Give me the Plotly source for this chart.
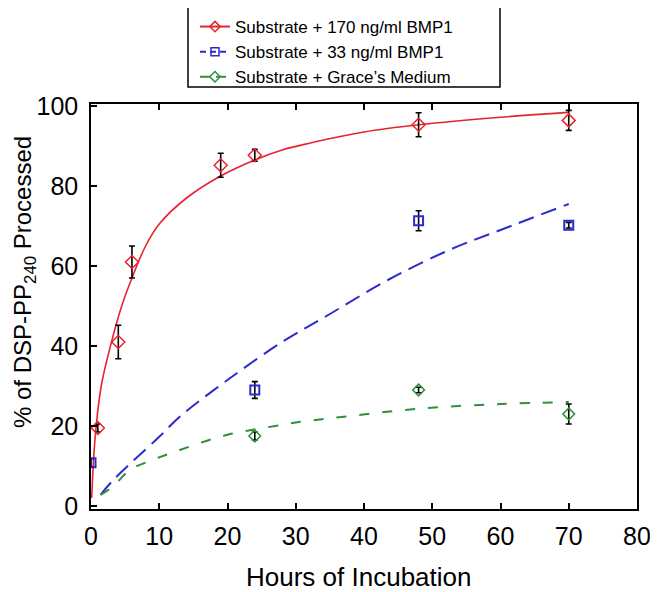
import plotly.graph_objects as go

# Datos
hours_pts = [1, 4, 6, 19, 24, 48, 70]
bmp170_pts = [19.5, 41, 61, 85.2, 87.7, 95.3, 96.4]
bmp170_err = [1, 4.2, 4, 3, 1.5, 3, 2.5]

hours_33 = [0, 24, 48, 70]
bmp33_pts = [10.8, 29, 71.3, 70.2]
bmp33_err = [1, 2.1, 2.5, 0.7]

hours_gr = [24, 48, 70]
grace_pts = [17.5, 29, 23]
grace_err = [1, 0.7, 2.5]

# Curvas ajustadas (valores leídos)
fit170_t = [0.1, 0.6, 1.5, 3, 4.5, 6, 8, 10, 14, 19, 24, 28, 32, 40, 48, 60, 70]
fit170_y = [2, 17, 30, 41, 50, 57, 65, 70.5, 77, 82.5, 86.5, 89, 90.7, 93.5, 95.3, 97.2, 98.4]

fit33_t = [1.4, 3, 6, 10, 13, 20, 28, 35, 43.5, 52.5, 60, 70]
fit33_y = [2.8, 6, 11, 17.3, 22.3, 31.5, 41, 48, 56.5, 64, 69, 75.5]

fitgr_t = [1.4, 3.3, 5.7, 9, 13, 20, 27.7, 31, 38, 48.5, 60, 70]
fitgr_y = [2.8, 5, 9, 11.5, 14, 17.8, 20.2, 21.1, 22.5, 24.4, 25.5, 26]

RED = "#e8232b"
BLUE = "#2b2bd0"
GREEN = "#2f8f3a"
FONT = "Liberation Sans, Arial, sans-serif"

# La página deja 8 px de margen en el body; se compensa aquí
OFF = 8
PL, PR, PT, PB = 91, 637, 104, 509   # caja del gráfico en la imagen de referencia
PW, PH = PR - PL, PB - PT


def px_x(x):
    return (x - PL) / PW


def px_y(y):
    return (PB - y) / PH


fig = go.Figure()

# Curvas
fig.add_trace(go.Scatter(x=fit170_t, y=fit170_y, mode="lines", showlegend=False,
                         line=dict(color=RED, width=1.6, shape="spline")))
fig.add_trace(go.Scatter(x=fit33_t, y=fit33_y, mode="lines", showlegend=False,
                         line=dict(color=BLUE, width=2, shape="spline", dash="16px,8px")))
fig.add_trace(go.Scatter(x=fitgr_t, y=fitgr_y, mode="lines", showlegend=False,
                         line=dict(color=GREEN, width=2, shape="spline", dash="10px,13px")))

# Puntos con barras de error
err_style = dict(type="data", thickness=1.6, width=3, color="black")
fig.add_trace(go.Scatter(x=hours_pts, y=bmp170_pts, mode="markers", showlegend=False,
                         error_y=dict(array=bmp170_err, **err_style),
                         marker=dict(symbol="diamond-open", size=10, color=RED, line=dict(width=1.5))))
fig.add_trace(go.Scatter(x=hours_33, y=bmp33_pts, mode="markers", showlegend=False,
                         error_y=dict(array=bmp33_err, **err_style),
                         marker=dict(symbol="square-open", size=9, color=BLUE, line=dict(width=2))))
fig.add_trace(go.Scatter(x=hours_gr, y=grace_pts, mode="markers", showlegend=False,
                         error_y=dict(array=grace_err, **err_style),
                         marker=dict(symbol="diamond-open", size=9, color=GREEN, line=dict(width=1.5))))

# Entradas de leyenda
legend_items = [
    ("Substrate + 170 ng/ml BMP1", RED, "solid", "diamond-open"),
    ("Substrate + 33 ng/ml BMP1", BLUE, "6px,4px", "square-open"),
    ("Substrate + Grace\u2019s Medium", GREEN, "10px,6px", "diamond-open"),
]
for name, color, dash, symbol in legend_items:
    fig.add_trace(go.Scatter(
        x=[None], y=[None], mode="lines+markers", name=name,
        line=dict(color=color, width=2, dash=dash),
        marker=dict(symbol=symbol, size=8, color=color, line=dict(width=1.5)),
    ))

# Caja de la leyenda
fig.add_shape(type="rect", xref="paper", yref="paper",
              x0=px_x(188), x1=px_x(500), y0=px_y(87), y1=px_y(7),
              line=dict(color="black", width=1.5), fillcolor="rgba(0,0,0,0)")

fig.update_layout(
    width=658 - OFF, height=592 - OFF,
    margin=dict(l=PL - OFF, r=658 - PR, t=PT - OFF, b=592 - PB, autoexpand=False),
    plot_bgcolor="white", paper_bgcolor="white",
    font=dict(family=FONT, size=20, color="black"),
    legend=dict(x=px_x(195), y=px_y(9), xanchor="left", yanchor="top",
                bgcolor="rgba(0,0,0,0)", borderwidth=0,
                font=dict(size=17, family=FONT), tracegroupgap=0,
                itemwidth=30),
    showlegend=True,
)

fig.update_xaxes(
    range=[0, 80], tickvals=[0, 10, 20, 30, 40, 50, 60, 70, 80],
    ticks="inside", ticklen=6, tickwidth=1.5, tickcolor="black",
    showline=True, linecolor="black", linewidth=1.5, mirror="ticks",
    showgrid=False, zeroline=False, tickfont=dict(size=25), automargin=False,
    ticklabelstandoff=4,
)
fig.update_yaxes(
    range=[-0.75, 100.5], tickvals=[0, 20, 40, 60, 80, 100],
    ticks="inside", ticklen=6, tickwidth=1.5, tickcolor="black",
    showline=True, linecolor="black", linewidth=1.5, mirror=True,
    showgrid=False, zeroline=False, tickfont=dict(size=25), automargin=False,
    ticklabelstandoff=6,
)

# Títulos de ejes como anotaciones
fig.add_annotation(
    text="Hours of Incubation",
    xref="paper", yref="paper", x=px_x(358), y=px_y(577),
    xanchor="center", yanchor="middle", showarrow=False,
    font=dict(size=26, family=FONT, color="black"),
)
fig.add_annotation(
    text="% of DSP-PP<sub>240</sub> Processed", textangle=-90,
    xref="paper", yref="paper", x=px_x(24), y=px_y(282),
    xanchor="center", yanchor="middle", showarrow=False,
    font=dict(size=24, family=FONT, color="black"),
)

fig.write_html("out.html")
